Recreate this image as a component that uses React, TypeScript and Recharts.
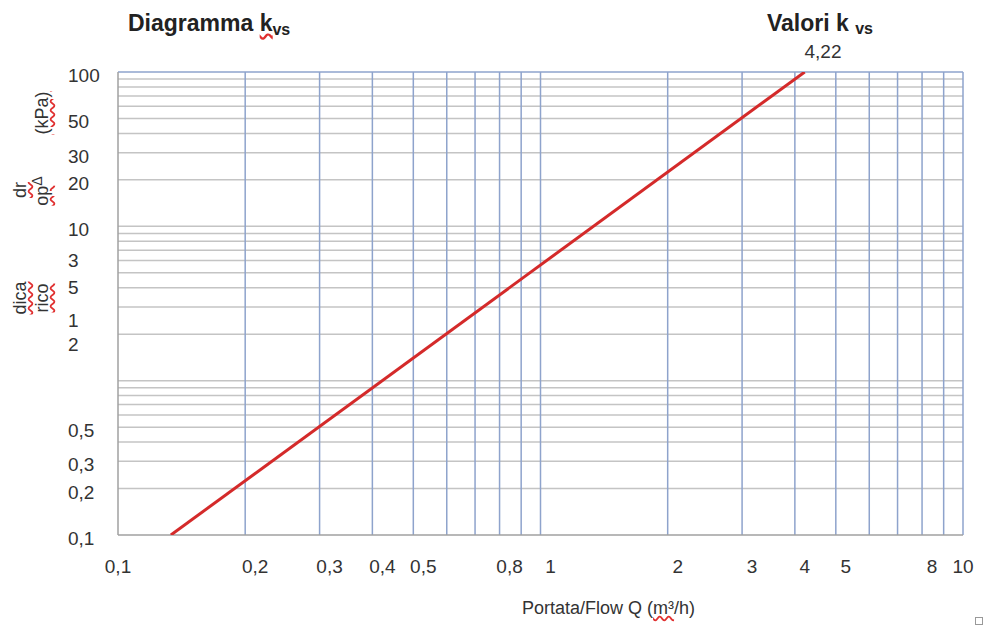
import { LineChart, Line, XAxis, YAxis, ReferenceLine } from "recharts";

// valore kvs della valvola
const kvsValue = "4,22";

const flowQ = [0.1334, 4.22];
const pressureDrop = [0.1, 100];

// griglia logaritmica
const xGridValues = [0.2, 0.3, 0.4, 0.5, 0.6, 0.7, 0.8, 0.9, 1, 2, 3, 4, 5, 6, 7, 8, 9, 10];
const yGridValues = [
  0.2, 0.3, 0.4, 0.5, 0.6, 0.7, 0.8, 0.9,
  1, 2, 3, 4, 5, 6, 7, 8, 9,
  10, 20, 30, 40, 50, 60, 70, 80, 90,
];

// etichette asse x
const xTickValues = [0.1, 0.2, 0.3, 0.4, 0.5, 0.8, 1, 2, 3, 4, 5, 8, 10];
const xTickLabels = ["0,1", "0,2", "0,3", "0,4", "0,5", "0,8", "1", "2", "3", "4", "5", "8", "10"];

// etichette asse y (come appaiono nel diagramma originale)
const yTickValues = [100, 50, 30, 20, 10, 6.3, 4.2, 2.6, 1.8, 0.5, 0.3, 0.2, 0.1];
const yTickLabels = ["100", "50", "30", "20", "10", "3", "5", "1", "2", "0,5", "0,3", "0,2", "0,1"];

const lineData = flowQ.map((q, i) => ({ q, dp: pressureDrop[i] }));

const FONT = "'Liberation Sans', Arial, Helvetica, sans-serif";
const TEXT = "#333";
const SQUIGGLE = "underline wavy #e03030";

function XTick(props: any) {
  const { x, y, payload } = props;
  const i = xTickValues.indexOf(payload.value);
  const last = i === xTickValues.length - 1;
  const dx = i === 0 || last ? 0 : 10;
  return (
    <text x={x + dx} y={y + 30} textAnchor="middle" fontSize={19} fill={TEXT} fontFamily={FONT}>
      {xTickLabels[i]}
    </text>
  );
}

function YTick(props: any) {
  const { y, payload } = props;
  const i = yTickValues.indexOf(payload.value);
  return (
    <text x={68} y={y + 10} textAnchor="start" fontSize={19} fill={TEXT} fontFamily={FONT}>
      {yTickLabels[i]}
    </text>
  );
}

function RotText({ cx, cy, children }: { cx: number; cy: number; children: any }) {
  return (
    <div
      style={{
        position: "absolute",
        left: cx,
        top: cy,
        transform: "translate(-50%, -50%) rotate(-90deg)",
        whiteSpace: "nowrap",
        fontSize: 18,
        lineHeight: 1,
        color: TEXT,
      }}
    >
      {children}
    </div>
  );
}

export default function App() {
  return (
    <div
      style={{
        position: "absolute",
        left: 0,
        top: 0,
        width: 984,
        height: 626,
        background: "#fff",
        fontFamily: FONT,
        overflow: "hidden",
      }}
    >
      <LineChart width={984} height={626} data={lineData} margin={{ top: 72, right: 21, bottom: 0, left: 0 }}>
        {yGridValues.map((v) => (
          <ReferenceLine key={"h" + v} y={v} stroke="#c4c4c4" strokeWidth={1.5} zIndex={-10} />
        ))}
        {xGridValues.map((v) => (
          <ReferenceLine key={"v" + v} x={v} stroke="#8ea3cc" strokeWidth={1.5} zIndex={-5} />
        ))}
        <ReferenceLine y={100} stroke="#8ea3cc" strokeWidth={1.5} zIndex={-5} />
        <XAxis
          dataKey="q"
          type="number"
          scale="log"
          domain={[0.1, 10]}
          allowDataOverflow
          ticks={xTickValues}
          interval={0}
          height={91}
          tick={<XTick />}
          tickLine={false}
          axisLine={{ stroke: "#a0a0a0", strokeWidth: 1.5 }}
        />
        <YAxis
          type="number"
          scale="log"
          domain={[0.1, 100]}
          allowDataOverflow
          ticks={yTickValues}
          interval={0}
          width={118}
          tick={<YTick />}
          tickLine={false}
          axisLine={{ stroke: "#a0a0a0", strokeWidth: 1.5 }}
        />
        <Line
          type="linear"
          dataKey="dp"
          stroke="#d42a2a"
          strokeWidth={3}
          dot={false}
          isAnimationActive={false}
          zIndex={1000}
        />
      </LineChart>

      <div style={{ position: "absolute", left: 128, top: 12, fontSize: 23, fontWeight: "bold", lineHeight: 1, color: "#222", whiteSpace: "nowrap" }}>
        Diagramma{"  "}
        <span style={{ textDecoration: SQUIGGLE }}>
          k<span style={{ fontSize: 16, position: "relative", top: 4 }}>vs</span>
        </span>
      </div>

      <div style={{ position: "absolute", left: 767, top: 12, fontSize: 23, fontWeight: "bold", lineHeight: 1, color: "#222", whiteSpace: "nowrap" }}>
        Valori k <span style={{ fontSize: 16, position: "relative", top: 3 }}>vs</span>
      </div>

      <div style={{ position: "absolute", left: 823, top: 42, transform: "translateX(-50%)", fontSize: 19, lineHeight: 1, color: TEXT }}>
        {kvsValue}
      </div>

      <RotText cx={42} cy={113}>
        <span style={{ textDecoration: SQUIGGLE }}>(kPa)</span>
      </RotText>
      <RotText cx={20} cy={190}>
        <span style={{ textDecoration: SQUIGGLE }}>dr</span>
      </RotText>
      <RotText cx={42} cy={191}>
        <span style={{ textDecoration: SQUIGGLE }}>op</span>
        <span style={{ fontSize: 14, position: "relative", top: -6 }}>Δ</span>
      </RotText>
      <RotText cx={20} cy={298}>
        <span style={{ textDecoration: SQUIGGLE }}>dica</span>
      </RotText>
      <RotText cx={42} cy={298}>
        <span style={{ textDecoration: SQUIGGLE }}>rico</span>
      </RotText>

      <div style={{ position: "absolute", left: 522, top: 599, fontSize: 18, lineHeight: 1, color: TEXT, whiteSpace: "nowrap" }}>
        Portata/Flow Q (<span style={{ textDecoration: SQUIGGLE }}>m³</span>/h)
      </div>

      <div style={{ position: "absolute", left: 975, top: 617, width: 6, height: 6, border: "1px solid #999" }} />
    </div>
  );
}
